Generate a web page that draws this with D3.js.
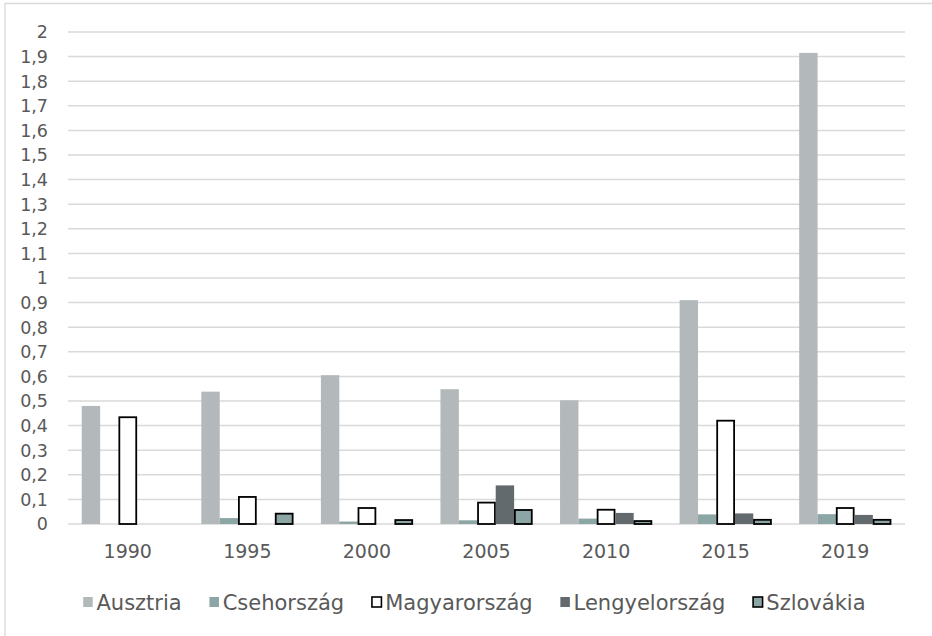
<!DOCTYPE html>
<html>
<head>
<meta charset="utf-8">
<script src="https://cdn.jsdelivr.net/npm/d3@7"></script>
<style>
  body { margin: 0; background: #fff; }
  svg { display: block; font-family: "DejaVu Sans", sans-serif; }
</style>
</head>
<body>
<svg id="chart" width="932" height="636"></svg>
<script>
const years = ['1990', '1995', '2000', '2005', '2010', '2015', '2019'];
const seriesNames = ['Ausztria', 'Csehország', 'Magyarország', 'Lengyelország', 'Szlovákia'];

// values per series, one per year (0 = no bar drawn)
const ausztria = [0.48, 0.538, 0.605, 0.548, 0.503, 0.91, 1.915];
const csehorszag = [0, 0.024, 0.01, 0.015, 0.022, 0.039, 0.04];
const magyarorszag = [0.434, 0.11, 0.065, 0.087, 0.058, 0.42, 0.065];
const lengyelorszag = [0, 0, 0, 0.157, 0.045, 0.043, 0.037];
const szlovakia = [0, 0.042, 0.016, 0.057, 0.012, 0.017, 0.017];

const yTicks = d3.range(0, 21).map(i => i / 10);

const seriesValues = [ausztria, csehorszag, magyarorszag, lengyelorszag, szlovakia];
const styles = [
  { fill: '#b3b9bb', stroke: 'none' },
  { fill: '#8ba6a4', stroke: 'none' },
  { fill: '#ffffff', stroke: '#000000' },
  { fill: '#626a6d', stroke: 'none' },
  { fill: '#8ba6a4', stroke: '#000000' },
];

const svg = d3.select('#chart');
const textColor = '#595959';
const gridColor = '#d9d9d9';

// chart area border (only top and left visible)
svg.append('path')
  .attr('d', 'M5,640 L5,3.5 L940,3.5')
  .attr('fill', 'none')
  .attr('stroke', gridColor)
  .attr('stroke-width', 1.3);

const x0 = d3.scaleBand()
  .domain(years)
  .range([68, 905])
  .paddingInner(0.23)
  .paddingOuter(0.115);

const x1 = d3.scaleBand()
  .domain(seriesNames)
  .range([0, x0.bandwidth()]);

const y = d3.scaleLinear()
  .domain([0, 2])
  .range([524, 32]);

const fmt = v => d3.format('.1~f')(v).replace('.', ',');

// gridlines
svg.append('g')
  .selectAll('line')
  .data(yTicks)
  .join('line')
  .attr('x1', 68)
  .attr('x2', 905)
  .attr('y1', d => y(d))
  .attr('y2', d => y(d))
  .attr('stroke', gridColor)
  .attr('stroke-width', 1.5);

// y labels
svg.append('g')
  .selectAll('text')
  .data(yTicks)
  .join('text')
  .attr('x', 48)
  .attr('y', d => y(d))
  .attr('dy', '0.36em')
  .attr('text-anchor', 'end')
  .attr('fill', textColor)
  .style('font-size', '17.5px')
  .text(d => fmt(d));

// bars
const rows = [];
years.forEach((yr, i) => {
  seriesNames.forEach((s, j) => {
    if (seriesValues[j][i] > 0) rows.push({ year: yr, series: s, idx: j, value: seriesValues[j][i] });
  });
});

svg.append('g')
  .selectAll('rect')
  .data(rows)
  .join('rect')
  .attr('x', d => x0(d.year) + x1(d.series) + (styles[d.idx].stroke === 'none' ? 0 : 0.75))
  .attr('y', d => y(d.value))
  .attr('width', d => x1.bandwidth() - (styles[d.idx].stroke === 'none' ? 0 : 1.5))
  .attr('height', d => y(0) - y(d.value))
  .attr('fill', d => styles[d.idx].fill)
  .attr('stroke', d => styles[d.idx].stroke)
  .attr('stroke-width', 1.8);

// x labels
svg.append('g')
  .selectAll('text')
  .data(years)
  .join('text')
  .attr('x', d => x0(d) + x0.bandwidth() / 2)
  .attr('y', 558)
  .attr('text-anchor', 'middle')
  .attr('fill', textColor)
  .style('font-size', '19px')
  .text(d => d);

// legend
const legend = svg.append('g');
const items = legend.selectAll('g')
  .data(seriesNames)
  .join('g');

items.append('rect')
  .attr('x', 0.75)
  .attr('y', -5)
  .attr('width', 9.5)
  .attr('height', 10)
  .attr('fill', (d, i) => styles[i].fill)
  .attr('stroke', (d, i) => styles[i].stroke)
  .attr('stroke-width', 1.6);

items.append('text')
  .attr('x', 14)
  .attr('dy', '0.36em')
  .attr('fill', textColor)
  .style('font-size', '21px')
  .text(d => d);

let offset = 0;
const widths = [];
items.each(function () {
  const w = 14 + this.querySelector('text').getComputedTextLength();
  widths.push(w);
});
const gap = 27;
const total = d3.sum(widths) + gap * (widths.length - 1);
let start = 474 - total / 2;
items.attr('transform', (d, i) => {
  const t = `translate(${start + offset},602)`;
  offset += widths[i] + gap;
  return t;
});
</script>
</body>
</html>
